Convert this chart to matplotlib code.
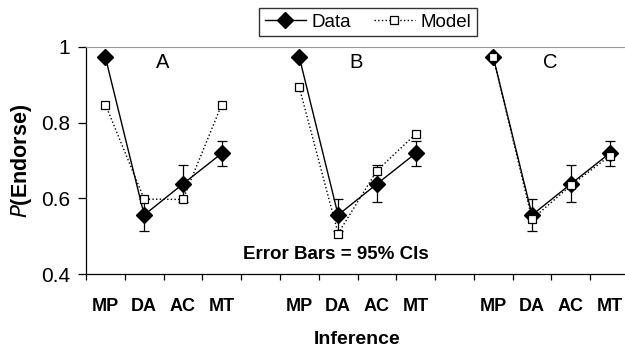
import numpy as np
import matplotlib
matplotlib.use("Agg")
import matplotlib.pyplot as plt

plt.rcParams['font.family'] = ['Liberation Sans', 'DejaVu Sans']

inferences = ['MP', 'DA', 'AC', 'MT']
panels = ['A', 'B', 'C']

# observed endorsement rates (same data in every panel)
data_vals = [0.973, 0.556, 0.638, 0.719]
data_err_lo = [0.0, 0.043, 0.049, 0.034]
data_err_hi = [0.0, 0.042, 0.049, 0.033]

# model predictions for each panel
model_a = [0.848, 0.598, 0.597, 0.848]
model_b = [0.893, 0.507, 0.673, 0.770]
model_c = [0.973, 0.545, 0.634, 0.712]
model_sets = [model_a, model_b, model_c]

fig = plt.figure(figsize=(6.25, 3.49), dpi=100)
ax = fig.add_axes([86 / 625, 75 / 349, 543 / 625, 227 / 349])

n_slots = 14
for g, model in enumerate(model_sets):
    x = np.arange(4) + 5 * g
    ax.errorbar(x, data_vals, yerr=[data_err_lo, data_err_hi], fmt='none',
                ecolor='black', elinewidth=0.9, capsize=3.5, capthick=0.9, zorder=2)
    ax.plot(x, data_vals, color='black', linestyle='-', linewidth=1.0,
            marker='D', markersize=8, markerfacecolor='black',
            markeredgecolor='black', zorder=3,
            label='Data' if g == 0 else None)
    ax.plot(x, model, color='black', linestyle=':', linewidth=1.0,
            marker='s', markersize=6, markerfacecolor='white',
            markeredgecolor='black', markeredgewidth=0.9, zorder=4,
            label='Model' if g == 0 else None)
    ax.text(1.47 + 5 * g, 0.958, panels[g], fontsize=14.5, ha='center', va='center')

ax.text(5.93, 0.452, 'Error Bars = 95% CIs', fontsize=13.5, fontweight='bold',
        ha='center', va='center')

ax.set_xlim(-0.5, n_slots - 0.5)
ax.set_ylim(0.4, 1.0)
ax.set_yticks([0.4, 0.6, 0.8, 1.0])
ax.set_yticklabels(['0.4', '0.6', '0.8', '1'], fontsize=15)

# category boundaries carry the tick marks, labels sit on the categories
ax.set_xticks(np.arange(n_slots + 1) - 0.5)
ax.set_xticklabels([])
label_pos = [i + 5 * g for g in range(3) for i in range(4)]
ax.set_xticks(label_pos, minor=True)
ax.set_xticklabels(inferences * 3, minor=True, fontsize=13, fontweight='bold')
ax.tick_params(axis='x', which='major', direction='out', length=4.5, width=0.9)
ax.tick_params(axis='x', which='minor', length=0, pad=17)
ax.tick_params(axis='y', direction='out', length=5.5, width=0.9, pad=6)

ax.spines['right'].set_visible(False)
ax.spines['top'].set_color('#999999')
ax.spines['left'].set_linewidth(0.9)
ax.spines['bottom'].set_linewidth(0.9)

ax.set_xlabel('Inference', fontsize=14, fontweight='bold', labelpad=12)
fig.text(0.034, (75 + 227 / 2) / 349, r'$\mathbf{\mathit{P}}$' + '(Endorse)', rotation=90,
         fontsize=15.5, fontweight='bold', ha='center', va='center')

fig.legend(loc='center', bbox_to_anchor=(368 / 625, 1 - 22 / 349), ncol=2,
           frameon=True, fancybox=False, edgecolor='black', fontsize=13.5,
           handlelength=2.2, columnspacing=1.2, borderpad=0.3, handletextpad=0.3)

fig.savefig('out.png', dpi=100)
